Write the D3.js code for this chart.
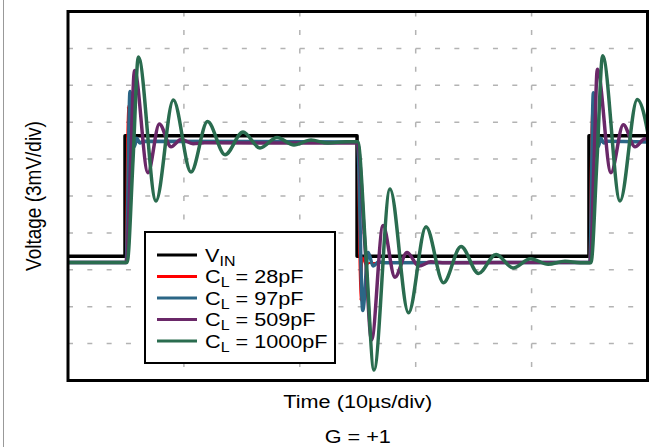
<!DOCTYPE html>
<html><head><meta charset="utf-8">
<script src="https://cdn.jsdelivr.net/npm/d3@7"></script>
<style>
body{margin:0;background:#fff;}
text{font-family:"Liberation Sans",Arial,Helvetica,sans-serif;fill:#000;}
</style>
</head><body>
<svg id="chart" width="660" height="447"></svg>
<script>
// ---- data (time in µs, voltage in mV; 10 µs/div, 3 mV/div) ----
const timeGrid = [10, 20, 30, 40];
const voltGrid = [-12, -9, -6, -3, 0, 3, 6, 9, 12];

const seriesNames = ["V_IN", "C_L = 28pF", "C_L = 97pF", "C_L = 509pF", "C_L = 1000pF"];
const seriesColors = ["#000000", "#ff0000", "#2b6686", "#6a2868", "#2a6c4f"];

const vin = [[0,-4.9],[4.92,-4.9],[4.92,4.9],[24.94,4.9],[24.94,-4.9],[44.95,-4.9],[44.95,4.9],[50,4.9]];

const cl28 = [[0,-5.45],[4.98,-5.45],[5.15,7.3],[5.35,4.2],[5.6,4.65],[5.9,4.4],[24.97,4.4],
  [25.22,-8.5],[25.42,-5.0],[25.7,-5.6],[26.0,-5.45],[44.98,-5.45],[45.2,7.3],[45.42,4.2],
  [45.7,4.65],[46.0,4.4],[50,4.4]];

const cl97 = [[0,-5.4],[5.02,-5.4],[5.35,8.5],[5.72,4.0],[5.95,4.7],[6.2,4.3],[6.5,4.45],
  [24.98,4.4],[25.43,-9.3],[25.9,-4.6],[26.33,-5.7],[26.8,-5.35],[27.2,-5.42],[45.02,-5.4],
  [45.33,8.4],[45.75,4.0],[45.98,4.7],[46.23,4.3],[46.55,4.45],[50,4.4]];

const cl509 = [[0,-5.4],[5.03,-5.4],[5.39,2.5],[5.74,10.2],[6.9,1.9],[7.88,5.85],[8.89,4.0],
  [9.75,4.6],[10.79,4.25],[11.8,4.32],[24.98,4.3],[25.6,-3.7],[26.19,-11.7],[27.18,-2.4],
  [28.21,-6.6],[29.25,-4.6],[30.28,-5.7],[31.3,-5.35],[32.3,-5.42],[45.06,-5.4],[45.38,2.5],
  [45.67,10.3],[46.85,1.9],[47.91,5.8],[48.92,4.0],[49.78,4.65],[50.8,4.3]];

const cl1000 = [[0,-5.4],[5.1,-5.4],[5.61,2.9],[6.07,11.3],[7.59,-0.4],[9.09,7.8],[10.61,1.95],
  [12.04,6.05],[13.55,3.35],[15.1,5.2],[16.57,3.9],[18.03,4.75],[19.5,4.15],[20.97,4.55],
  [22.43,4.3],[24.0,4.42],[25.0,4.42],[25.71,-4.8],[26.4,-14.15],[27.78,0.57],[29.38,-9.5],
  [30.89,-2.5],[32.4,-7.05],[33.91,-4.1],[35.42,-6.3],[36.93,-4.75],[38.4,-5.85],[39.91,-5.1],
  [41.42,-5.55],[42.88,-5.3],[44.2,-5.42],[45.12,-5.42],[45.64,2.9],[46.13,11.4],[47.63,-0.4],
  [49.12,7.85],[50.6,1.95]];

const seriesData = [vin, cl28, cl97, cl509, cl1000];
const seriesWidths = [3.5, 2, 3.5, 3.5, 3.5];

// ---- layout ----
const svg = d3.select("#chart");
const L = 68, R = 647.5, T = 11.5, B = 380.5;
const SX = 1.14; // horizontal text stretch seen in the reference
const x = d3.scaleLinear().domain([0, 50]).range([L, R]);
const y = d3.scaleLinear().domain([-15, 15]).range([B, T]);

svg.append("line").attr("x1",3.5).attr("x2",3.5).attr("y1",0).attr("y2",447)
  .attr("stroke","#999").attr("stroke-width",1);

svg.append("defs").append("clipPath").attr("id","plotclip")
  .append("rect").attr("x",L).attr("y",T).attr("width",R-L).attr("height",B-T);

// grid
const g = svg.append("g");
const hPeriod = (x(10)-x(0))/6, vPeriod = (y(-12)-y(-9))/2;
g.selectAll("line.h").data(voltGrid).join("line").attr("class","h")
  .attr("x1",L).attr("x2",R).attr("y1",d=>y(d)).attr("y2",d=>y(d))
  .attr("stroke","#b3b3b3").attr("stroke-width",1.5)
  .attr("stroke-dasharray",`5,${hPeriod-5}`);
g.selectAll("line.v").data(timeGrid).join("line").attr("class","v")
  .attr("x1",d=>x(d)).attr("x2",d=>x(d)).attr("y1",T).attr("y2",B)
  .attr("stroke","#b3b3b3").attr("stroke-width",1.5)
  .attr("stroke-dasharray",`5,${vPeriod-5}`);

// traces
const traces = svg.append("g").attr("clip-path","url(#plotclip)");
seriesData.forEach((d,i)=>{
  const line = d3.line().x(p=>x(p[0])).y(p=>y(p[1]))
    .curve(i===0 ? d3.curveLinear : d3.curveMonotoneX);
  traces.append("path").datum(d).attr("d",line).attr("fill","none")
    .attr("stroke",seriesColors[i]).attr("stroke-width",seriesWidths[i])
    .attr("stroke-linejoin","round");
});

// frame
svg.append("rect").attr("x",L).attr("y",T).attr("width",R-L).attr("height",B-T)
  .attr("fill","none").attr("stroke","#000").attr("stroke-width",3);

// legend
const lg = svg.append("g");
lg.append("rect").attr("x",145).attr("y",232).attr("width",190).attr("height",131)
  .attr("fill","#fff").attr("stroke","#000").attr("stroke-width",2);
const rowY = [255, 276.5, 298, 319.5, 341];
seriesNames.forEach((name,i)=>{
  lg.append("line").attr("x1",157).attr("x2",197).attr("y1",rowY[i]).attr("y2",rowY[i])
    .attr("stroke",seriesColors[i]).attr("stroke-width",3);
  const [main, rest] = name.split("_");
  const sub = rest.split(" ")[0];
  const tail = rest.slice(sub.length);
  const t = lg.append("text")
    .attr("transform",`translate(205,${rowY[i]+6.5}) scale(${SX},1)`)
    .attr("font-size",19);
  t.append("tspan").text(main);
  t.append("tspan").attr("font-size",14).attr("dy",4).text(sub);
  t.append("tspan").attr("dy",-4).text(tail);
});

// axis titles
svg.append("text").attr("transform",`translate(${(L+R)/2},408) scale(${SX},1)`)
  .attr("text-anchor","middle").attr("font-size",19).text("Time (10µs/div)");
svg.append("text").attr("transform",`translate(${(L+R)/2},443) scale(${SX},1)`)
  .attr("text-anchor","middle").attr("font-size",19).text("G = +1");
svg.append("text").attr("transform",`translate(41,${(T+B)/2}) scale(${SX},1) rotate(-90)`)
  .attr("text-anchor","middle").attr("font-size",19).text("Voltage (3mV/div)");
</script>
</body></html>
